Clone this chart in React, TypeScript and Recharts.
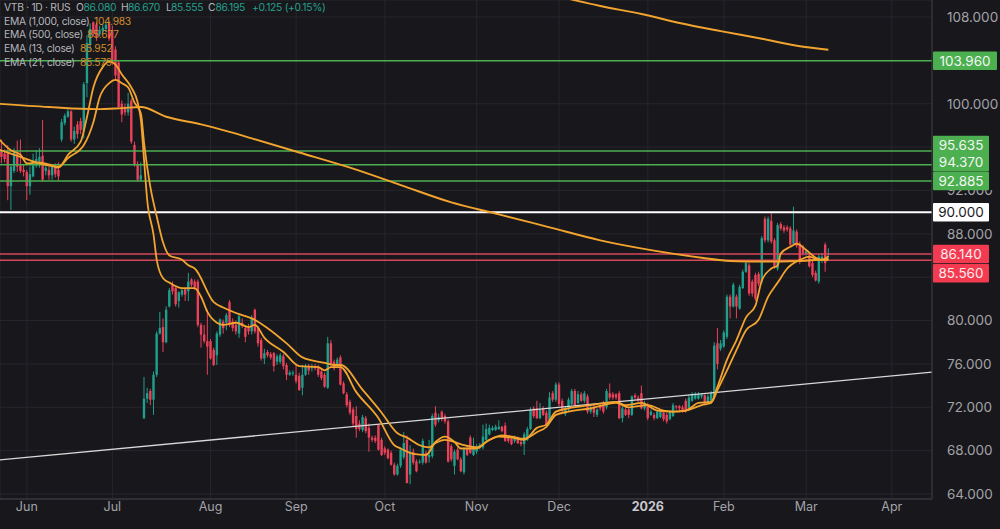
import React from "react";
import { ComposedChart, Bar, Line, XAxis, YAxis, CartesianGrid, ReferenceLine } from "recharts";

// Each row: open, high, low, close
const juneBars = [
  [95.7,96.7,94.5,95.1],[95.4,95.8,94.6,94.9],[95.4,96.2,91.1,92.4],[92.4,94.4,90.2,94.2],[93.8,95.9,93.6,95.5],
  [95.4,96.6,93.7,94.2],[94.3,96.7,93.6,93.8],[93.9,94.4,93.3,93.7],[93.7,93.9,91.1,92.4],[92.4,94.2,91.6,93.5],
  [93.3,95.4,93.2,94.3],[94.3,95.7,94.1,94.9],[94.7,95.9,94.1,95.1],[95.2,98.5,92.8,93],[93.8,94.3,93.4,94.1],
  [93.9,94.2,93,93.4],[93.4,94.4,93,94.2],[94.2,94.5,93.2,93.5],[93.9,94.6,92.9,93.3],[96.7,98.6,96.5,98.3],
  [98.2,99.1,98,98.9],[98.8,99.5,98.7,99.3],[99.3,99.4,96.5,96.7],[96.7,97.9,96.3,97.5],[98.1,98.4,96.8,97.2],
  [98.4,98.7,97.2,97.6],[97.5,102,96.8,101.8],[101.9,106.3,100.6,105.6],[105.5,107.4,104.9,106.9],[107.5,107.6,106.2,106.5],
  [107.3,107.5,105.8,106.2],[106.4,107.2,106.2,106.8],[106.7,107.3,106.5,107],[106.9,107.5,106.6,107.3],[107.4,107.6,105.8,106],
  [106.7,107.2,103.6,104],[105,105.3,102.2,102.6],[103.8,104,99.5,99.7],[100,100.3,98.3,99],[99.7,100,98.9,99.2],
  [99.2,101,98.9,100],[100.3,100.5,96.3,96.5],[96.2,96.5,94.2,94.4],[94.4,94.7,92.8,93],[93,94.6,92.8,93.4],
];
const julyBars = [
  [71,74.8,70.9,72.8],[72.8,73.8,72.4,73.3],[73.5,73.7,72.2,72.7],[72.7,75.3,71.3,75],[75,79,74.8,78.8],
  [78.8,80.8,78.7,79.3],[79.4,80.2,77.1,78],[78,81.3,77.9,81],[81.3,83,81.2,82.8],[83.3,83.6,82.4,82.7],
  [83,83.2,81.3,81.5],[81.8,82.7,81.2,82.6],[82.4,83,82.2,82.8],[82.9,83,81.8,82.4],[82.7,84.4,81.8,83.6],
  [83.8,83.9,83.1,83.3],[83.6,83.8,82.8,83.1],[83.6,83.8,79.4,79.6],[79.6,79.8,77.5,78.7],[78.7,79.6,77.9,78.1],
  [78.1,81,75,77.6],[78.1,78.3,76.4,76.5],[77.3,77.5,75.8,75.9],[76.8,79,75.9,78.8],[78.7,80.2,78.5,80.1],
  [79.9,80.1,78.8,79.3],[79.8,80.7,79.1,80.5],[81.7,81.9,79.4,79.6],[79.9,80.2,79,79.3],[79.6,80,78.7,79],
  [78.8,80.6,78.4,80.4],[79.8,80.2,79.3,79.5],[79.3,79.5,78,78.5],[79.3,79.7,78.7,79],[79,80.5,78.7,80.2],
  [81,81.1,78.8,79],[79.3,79.5,77.6,77.9],[78.2,78.4,76.3,76.5],[76.5,77.4,76,77],[77.1,77.3,76.6,76.8],
  [76.9,77.1,76.4,76.6],[77,77.1,75.3,75.8],[76.2,76.9,75.9,76.7],[76.2,77,76,76.8],[76.7,76.9,75.5,75.8],
  [75.9,76.1,74.5,75],[75,75.4,74.9,75.2],[75.1,75.4,74.9,75.2],[75,76,74.2,74.4],[74.9,75.2,73.5,73.6],
  [73.8,75.9,73.1,75],[75,76,74.9,75.8],[75.8,76,75,75.4],[75.6,76,75.3,75.8],[75.8,76,75.4,75.6],
  [75.6,75.9,74.8,75],[75.3,75.6,74.5,74.7],[75,75.2,73.8,73.9],[73.8,78.5,73.7,77.9],[77.9,78.2,75.7,76],
  [76.2,76.4,75.4,75.6],[75.8,76.6,75.6,76.4],[76.6,76.8,74,74.1],
];
const autumnBars = [
  [74.2,74.4,73.2,73.3],[73.2,73.4,72,72.2],[72.5,72.7,71.3,71.5],[71.8,72,70.2,70.5],[71.2,72.1,69.2,70],
  [70.5,70.8,69.8,70],[69.9,71.3,69.7,71.1],[71,71.2,69.6,69.8],[70.1,70.5,67.9,69.2],[69.2,69.4,68.8,69],
  [69.2,69.4,68.7,68.9],[70.4,70.4,68,68.1],[69,69.2,67.5,67.6],[68.2,68.4,67.6,67.8],[68.1,68.2,67.2,67.3],
  [67.8,68,66.6,66.7],[66.7,66.9,65.7,65.8],[65.8,66.8,65.7,66.6],[66.6,68.3,66.4,68.1],[67.4,69.7,67.2,68.7],
  [69,69.4,65,65],[65.8,68.5,64.9,67.9],[67.9,68.2,66.7,66.9],[67,67.2,66,66.1],[66.9,67.2,66.8,67],
  [66.9,69.1,66.7,68.9],[67.8,68,66.8,66.9],[67.4,69,66.9,67.6],[67.5,71.4,67.3,71.2],[71.5,72.1,70.2,70.4],
  [70.8,71.4,70.6,71.1],[71.6,71.7,70.7,70.9],[71.2,71.4,70.5,70.7],[70.7,70.9,66.9,67],[68.4,68.6,67,67.2],
  [66.6,68.1,65.8,67.9],[68.1,68.3,67.1,67.2],[67.2,67.4,66,66.1],[66,68.3,65.8,68.1],[68.2,68.5,67.5,67.6],
  [69.2,69.4,67.7,67.8],[67.6,69.2,67.5,68.4],[67.9,68.6,67.7,68.4],[68.3,68.7,68.1,68.5],[68.3,70.4,68.1,69.3],
  [69,70.5,68.9,70],[69.5,70.4,69.4,70.1],[69.9,70.3,69.8,70.1],[69.9,70.4,69.8,70.2],[70,70.8,69.9,70.2],
  [70.2,70.3,69.7,69.8],[70.3,70.6,68.8,68.9],[69.2,69.4,68.7,68.9],[69.1,69.3,68.5,68.6],[68.9,69.4,68.7,69.2],
  [69.1,69.3,68.6,68.7],[68.8,69,68.4,68.6],[68.6,69.7,67.6,69.5],[69,70.2,68.9,70],[70,72,69.9,71.8],
  [71.9,72.1,71,71.2],[71.9,72.6,70.9,71],[71,72.4,70.9,71.8],[71.9,72.1,71.2,71.3],[71.5,71.7,70.2,70.4],
  [70.7,73.4,70.6,72.9],[73.3,73.5,72.5,72.7],[72.7,74.3,72.5,74.1],[74.1,74.3,72.1,72.3],[72.6,72.8,71.5,71.7],
  [71.4,72.1,71.2,71.9],[71.8,72.9,71.6,72.7],
];
const winterBars = [
  [72.3,73.7,72.2,73.5],[73.5,73.7,72,72.2],[72.4,73.5,72.3,73.2],[73.2,73.4,72.5,72.6],[72.6,73.5,72.4,73.3],
  [73,73.2,71.4,71.6],[71.6,72.2,71.4,72],[72,72.2,71.1,71.5],[71.3,71.9,71.1,71.8],[72.2,72.4,71.7,71.9],
  [72.4,72.6,71.4,71.6],[72,73.7,71.8,73.5],[73.3,74.2,72.7,72.9],[73.2,73.4,72.7,72.9],[73.2,73.3,72.7,72.9],
  [73.3,73.5,70.9,71],[71,72.1,70.6,71.9],[71.8,72,71.2,71.3],[71.8,72,71,71.3],[71.3,73.1,71.2,73],
  [73.1,73.3,72.7,72.9],[72.9,73.1,72.5,72.6],[73.3,74,71.8,71.9],[71.9,72.6,71.7,72.4],[72.2,72.4,70.8,71],
  [71.3,71.8,71.2,71.6],[71.3,71.5,70.8,71],[71,71.7,70.9,71.6],[71.1,71.8,71,71.6],[71.5,71.7,70.7,70.9],
  [71.3,71.5,70.5,70.7],[70.9,71.7,70.8,71.6],[71.2,72.4,71.1,72.2],[72.1,72.2,71.8,72],[72.1,72.2,71.7,71.9],
  [72,72.2,71.5,71.7],[72.6,72.8,71.5,71.7],[71.8,73.2,71.7,72.9],[72.6,73.4,72.5,73.2],[72.8,73.4,72.7,73.2],
  [72.8,73.4,72.7,73.2],[73,73.3,72.8,73.2],[73.1,73.2,72.2,72.3],[72.4,73.2,72.3,73],[72.6,73.5,72.5,73.3],
];
const springBars = [
  [73,78,72.8,77.7],[77.9,79.3,75.5,76],[77.4,78.2,77.2,77.9],[77.6,79.1,77.5,78.9],[78.5,82.4,78.3,82.2],
  [82.2,82.4,80.2,81.3],[81.3,83.5,81.2,83.3],[82.2,82.4,80.2,81.3],[81.1,83.3,81,83.1],[83,84.7,82.9,84.5],
  [84.5,85.5,84.4,85.3],[85.1,85.3,82.3,82.5],[83.6,83.8,82.2,82.5],[84.2,84.4,81.8,82],[84.3,84.5,83.2,83.4],
  [83.6,87.8,83.4,87.6],[89.4,89.6,87.2,87.4],[87.4,89.6,87.2,89.4],[89.2,89.9,87.1,87.3],[87.4,87.6,84.8,85],
  [84.8,89,84.6,88.8],[88.9,89.1,88.3,88.5],[88.6,88.8,88.1,88.3],[88.6,88.8,88.2,88.4],[88.5,88.7,86.8,87],
  [87.1,90.5,86.9,88.3],[88.2,88.4,86.7,86.9],[87.1,87.3,85.2,85.4],[86.8,87,86,86.2],[86.1,86.6,86,86.4],
  [86,86.2,84.9,85],[85.3,85.5,84,84.2],[84.4,84.6,83.6,83.7],[83.6,86.1,83.4,85.9],[85.5,86.2,85.3,85.9],
  [87,87.2,84.5,85.3],[86.08,86.67,85.555,86.195],
];
const candleRows = [...juneBars, ...julyBars, ...autumnBars, ...winterBars, ...springBars];
const candles = candleRows.map(([o, h, l, c], i) => ({ i, o, h, l, c }));

// Each row: bar number, value
const ema13Rows = [[-1,96.8],[3,95.7],[6,95.3],[8,94.5],[12,94.6],[15,94.4],[18,94.1],[21,95.3],[25,96.5],[27,98.8],[29,101.5],[32,103.4],[34,103.9],[36,103.6],[38,102.7],[41,101.5],[43,100.1],[44,98.5],[45,94.8],[46,91.1],[48,87.9],[49,85.6],[51,83.9],[53,83.5],[57,83],[61,83],[63,82.2],[65,80.8],[68,79.8],[70,79.6],[74,79.8],[78,79.4],[80,79.6],[83,78.4],[89,77.1],[94,75.8],[100,75.7],[102,75.4],[104,75.7],[107,75.7],[112,73.4],[119,71],[124,68.5],[126,68.2],[130,67.7],[134,67.6],[137,68.8],[140,69.3],[143,68.8],[145,68.2],[150,68.2],[153,68.8],[157,69.3],[161,69.2],[165,69],[169,70.1],[172,70.4],[175,71.6],[179,71.9],[186,72.2],[194,72.5],[197,72.2],[202,72.4],[207,71.7],[212,71.6],[216,71.7],[220,72.4],[224,72.5],[226,73.9],[229,76.4],[232,78.2],[235,80.3],[238,81.4],[240,83.7],[243,84.8],[245,85.1],[246,86.2],[249,86.8],[251,87.1],[254,86.5],[257,85.8],[259,85.6],[261,85.95]];
const ema21Rows = [[-1,95.8],[6,95.1],[12,94.5],[18,94.2],[21,95],[26,96.2],[29,98.3],[31,100.6],[34,101.9],[36,102.2],[38,101.9],[40,101.5],[42,100.1],[44,99.1],[45,96.4],[47,92.3],[49,89.6],[51,87.2],[53,86],[57,85.6],[59,85.1],[61,84.8],[67,81.7],[70,81.2],[74,80.7],[76,80.5],[79,80.2],[84,79.3],[90,77.9],[95,76.6],[102,76.1],[105,75.9],[107,75.9],[114,73.6],[120,71.5],[125,69.6],[128,69.2],[132,68.5],[135,68.3],[137,68.7],[140,69],[144,68.7],[146,68.5],[150,68.3],[154,69],[158,69.4],[161,69.3],[165,69.1],[169,69.7],[172,70.2],[175,71.3],[179,71.6],[186,71.9],[194,72.4],[198,72],[204,72.2],[209,71.7],[212,71.6],[216,71.7],[221,72.2],[224,72.4],[226,73.6],[229,75.4],[232,77.3],[235,79.1],[239,80.1],[242,82.2],[245,83.5],[248,84.8],[252,85.6],[255,85.9],[258,85.6],[261,85.58]];
const ema500Rows = [[-1,100],[15,99.7],[30,99.5],[38,99.6],[44,99.7],[52,98.8],[63,98.1],[72,97.4],[79,96.8],[94,95.5],[110,94.1],[126,92.5],[142,90.9],[157,89.8],[173,88.6],[189,87.4],[205,86.5],[221,85.8],[230,85.5],[240,85.45],[252,85.5],[261,85.68]];
const ema1000Rows = [[178,109.75],[189,109.02],[202,108.28],[214,107.45],[227,106.7],[240,106],[252,105.3],[261,104.98]];
const trendRows = [[-1,67.14],[294,75.25]];
const toPoints = (rows: number[][]) => rows.map(([i, v]) => ({ i, v }));

const monthTicks = [8, 35, 66, 93, 121, 150, 176, 204, 228, 254, 281];
const monthLabels = ["Jun", "Jul", "Aug", "Sep", "Oct", "Nov", "Dec", "2026", "Feb", "Mar", "Apr"];
const priceTicks = [64, 68, 72, 76, 80, 84, 88, 92, 96, 100, 104, 108];
const hiddenPriceLabels = [96, 104]; // fully behind the level tags in the reference
const clippedPriceLabels: Record<number, number> = { 92: -0.5, 84: 5 }; // partly behind the tags

const GREEN = "#4caf50";
const RED = "#f23b50";
const ORANGE = "#f2a42f";
const UP = "#1f9f8c";
const DOWN = "#ea4259";
const BG = "#17171c";
const AXIS_TEXT = "#a3a3a8";
const FONT = "Inter, 'Noto Sans', sans-serif";

const levels = [
  { value: 103.96, text: "103.960", fill: GREEN, ink: "#f2f6f2", line: GREEN, w: 64, shift: 0 },
  { value: 95.635, text: "95.635", fill: GREEN, ink: "#f2f6f2", line: GREEN, w: 56, shift: -6 },
  { value: 94.37, text: "94.370", fill: GREEN, ink: "#f2f6f2", line: GREEN, w: 56, shift: -2.5 },
  { value: 92.885, text: "92.885", fill: GREEN, ink: "#f2f6f2", line: GREEN, w: 56, shift: 0 },
  { value: 90, text: "90.000", fill: "#ffffff", ink: "#1a1a1e", line: "#ffffff", w: 56, shift: 0 },
  { value: 86.14, text: "86.140", fill: RED, ink: "#fbeaec", line: "#d8475a", w: 56, shift: 0 },
  { value: 85.56, text: "85.560", fill: RED, ink: "#fbeaec", line: "#d8475a", w: 56, shift: 13 },
];

function PriceTag(props: any) {
  const { viewBox, text, fill, ink, w, shift } = props;
  const right = viewBox.x + viewBox.width;
  const cy = viewBox.y + shift;
  return (
    <g>
      <rect x={right + 1} y={cy - 9.25} width={w} height={18.5} rx={1} fill={fill} />
      <text x={right + 1 + w / 2} y={cy + 4.8} textAnchor="middle" fontSize={13.5} fontFamily={FONT} fill={ink}>
        {text}
      </text>
    </g>
  );
}

function PriceTick(props: any) {
  const { x, y, payload } = props;
  const value: number = payload.value;
  if (hiddenPriceLabels.includes(value)) return <g />;
  const cut = clippedPriceLabels[value];
  const id = `price-clip-${value}`;
  return (
    <g clipPath={cut === undefined ? undefined : `url(#${id})`}>
      {cut === undefined ? null : (
        <clipPath id={id}>
          <rect x={x - 5} y={y + cut} width={70} height={14} />
        </clipPath>
      )}
      <text x={x} y={y + 4.8} textAnchor="start" fontSize={13.5} fontFamily={FONT} fill={AXIS_TEXT}>
        {value.toFixed(3)}
      </text>
    </g>
  );
}

function Candle(props: any) {
  const { x, y, width, height, payload } = props;
  const { o, h, l, c } = payload;
  const cx = x + width / 2;
  const unit = h === l ? 0 : height / (h - l);
  const top = y + (h - Math.max(o, c)) * unit;
  const bodyH = Math.max(Math.abs(o - c) * unit, 1);
  const color = c >= o ? UP : DOWN;
  return (
    <g>
      <line x1={cx} x2={cx} y1={y} y2={y + height} stroke={color} strokeWidth={1} />
      <rect x={cx - 1.2} y={top} width={2.4} height={bodyH} fill={color} />
    </g>
  );
}

function MonthTick(props: any) {
  const { x, y, payload } = props;
  const label = monthLabels[monthTicks.indexOf(payload.value)];
  const bold = label === "2026";
  return (
    <text x={x} y={y + 4} textAnchor="middle" fontSize={12.5} fontFamily={FONT} fontWeight={bold ? 700 : 400} fill={bold ? "#c9c9cd" : AXIS_TEXT}>
      {label}
    </text>
  );
}

const head: React.CSSProperties = { position: "absolute", fontFamily: FONT, fontSize: 10.3, letterSpacing: -0.3, lineHeight: "14px", whiteSpace: "nowrap" };
const headerPieces = [
  { left: 4, text: "VTB · 1D · RUS", color: "#b6b6ba" },
  { left: 76, text: "O", color: "#b6b6ba" },
  { left: 83.5, text: "86.080", color: "#27a08e" },
  { left: 121, text: "H", color: "#b6b6ba" },
  { left: 128, text: "86.670", color: "#27a08e" },
  { left: 166, text: "L", color: "#b6b6ba" },
  { left: 171, text: "85.555", color: "#27a08e" },
  { left: 208, text: "C", color: "#b6b6ba" },
  { left: 215.5, text: "86.195", color: "#27a08e" },
  { left: 252, text: "+0.125 (+0.15%)", color: "#27a08e" },
];
const emaLegend = [
  { name: "EMA (1,000, close)", value: "104.983", valueLeft: 94, top: 13.7 },
  { name: "EMA (500, close)", value: "85.677", valueLeft: 87, top: 27.3 },
  { name: "EMA (13, close)", value: "85.952", valueLeft: 80, top: 41.3 },
  { name: "EMA (21, close)", value: "85.579", valueLeft: 80, top: 54.7 },
];

export default function App() {
  return (
    <div style={{ position: "fixed", left: 0, top: 0, width: 1000, height: 529, background: BG, overflow: "hidden" }}>
      <ComposedChart width={1000} height={529} data={candles} margin={{ top: 0, right: 0, bottom: 0, left: 0 }}>
        <CartesianGrid stroke="#26262c" strokeWidth={1} />
        <XAxis
          dataKey="i"
          type="number"
          domain={[-0.47, 293.7]}
          allowDataOverflow
          ticks={monthTicks}
          interval={0}
          height={30}
          tick={<MonthTick />}
          tickLine={false}
          stroke="#2f2f35"
          strokeWidth={2}
        />
        <YAxis
          orientation="right"
          width={68}
          domain={[63.54, 109.57]}
          allowDataOverflow
          ticks={priceTicks}
          interval={0}
          tickLine={false}
          tickMargin={9}
          stroke="#3a3a40"
          tick={<PriceTick />}
        />
        {levels.map((lv) => (
          <ReferenceLine
            key={lv.text}
            y={lv.value}
            stroke={lv.line}
            strokeWidth={lv.value === 90 ? 2 : 1.5}
            label={<PriceTag text={lv.text} fill={lv.fill} ink={lv.ink} w={lv.w} shift={lv.shift} />}
          />
        ))}
        <Bar dataKey={(d: any) => [d.l, d.h]} barSize={3} shape={<Candle />} isAnimationActive={false} />
        <Line data={toPoints(trendRows)} dataKey="v" stroke="#d9d9d9" strokeWidth={1.3} dot={false} isAnimationActive={false} legendType="none" />
        <Line type="monotone" data={toPoints(ema1000Rows)} dataKey="v" stroke={ORANGE} strokeWidth={1.9} dot={false} isAnimationActive={false} />
        <Line type="monotone" data={toPoints(ema500Rows)} dataKey="v" stroke={ORANGE} strokeWidth={1.9} dot={false} isAnimationActive={false} />
        <Line type="monotone" data={toPoints(ema21Rows)} dataKey="v" stroke={ORANGE} strokeWidth={1.8} dot={false} isAnimationActive={false} />
        <Line type="monotone" data={toPoints(ema13Rows)} dataKey="v" stroke={ORANGE} strokeWidth={1.8} dot={false} isAnimationActive={false} />
      </ComposedChart>
      {headerPieces.map((p) => (
        <span key={p.left} style={{ ...head, left: p.left, top: 0.3, color: p.color }}>{p.text}</span>
      ))}
      {emaLegend.map((e) => (
        <React.Fragment key={e.name}>
          <span style={{ ...head, left: 4, top: e.top, color: "#b6b6ba" }}>{e.name}</span>
          <span style={{ ...head, left: e.valueLeft, top: e.top, color: "#d28c2c" }}>{e.value}</span>
        </React.Fragment>
      ))}
    </div>
  );
}
